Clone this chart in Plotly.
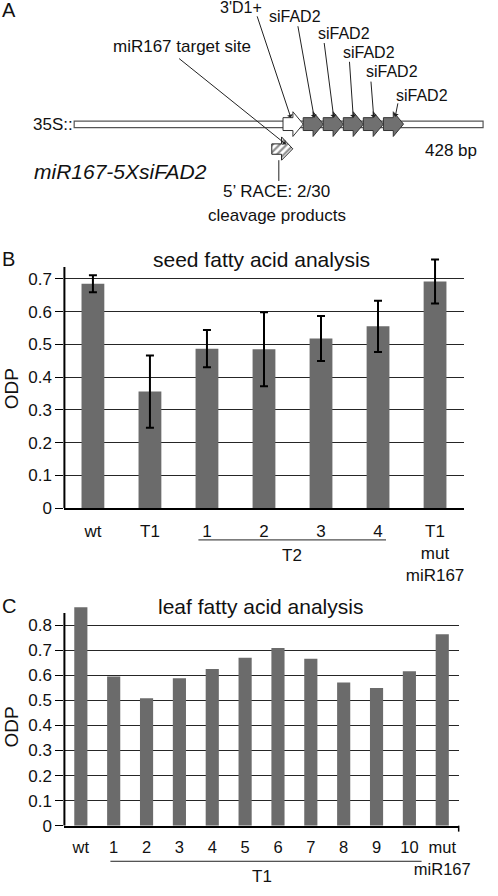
import plotly.graph_objects as go

W, H = 498, 896
FONT = "Liberation Sans, Arial, sans-serif"
INK = "#111111"
BAR = "#6b6b6b"

# ---------------- data ----------------
seed_cats = ["wt", "T1", "1", "2", "3", "4", "T1 mut miR167"]
seed_ticktext = ["wt", "T1", "1", "2", "3", "4", "T1<br>mut<br>miR167"]
seed_odp = [0.685, 0.356, 0.487, 0.485, 0.518, 0.555, 0.692]
seed_err = [0.026, 0.110, 0.057, 0.113, 0.069, 0.078, 0.067]
seed_yticks = [0, 0.1, 0.2, 0.3, 0.4, 0.5, 0.6, 0.7]

leaf_cats = ["wt", "1", "2", "3", "4", "5", "6", "7", "8", "9", "10", "mut miR167"]
leaf_ticktext = ["wt", "1", "2", "3", "4", "5", "6", "7", "8", "9", "10", "mut<br>miR167"]
leaf_odp = [0.872, 0.595, 0.509, 0.588, 0.625, 0.670, 0.709, 0.666, 0.571, 0.549, 0.616, 0.764]
leaf_yticks = [0, 0.1, 0.2, 0.3, 0.4, 0.5, 0.6, 0.7, 0.8]


def fx(px):
    return px / W


def fy(py):
    return 1 - py / H


# panel geometry (pixels)
B_left, B_right, B_zero, B_unit, B_top = 66, 475, 514, 331.43, 0.77
C_left, C_right, C_zero, C_unit, C_top = 66, 470, 835, 253.4, 0.88

fig = go.Figure()

fig.add_trace(go.Bar(
    x=seed_cats, y=seed_odp, marker=dict(color=BAR, line=dict(width=0)),
    error_y=dict(type="data", array=seed_err, color="black", thickness=2, width=4),
    xaxis="x", yaxis="y", showlegend=False, hoverinfo="skip"))

fig.add_trace(go.Bar(
    x=leaf_cats, y=leaf_odp, marker=dict(color=BAR, line=dict(width=0)),
    xaxis="x2", yaxis="y2", showlegend=False, hoverinfo="skip"))

# ---------------- panel A (pixel-space overlay axes) ----------------
hatch_x = [278.5, 288.5, 288.5, 300, 288.5, 288.5, 278.5, 278.5]
hatch_y = [145.5, 145.5, 138.5, 150.5, 162, 156, 156, 145.5]
fig.add_trace(go.Scatter(
    x=hatch_x, y=hatch_y, mode="lines", fill="toself",
    fillcolor="white",
    fillpattern=dict(shape="/", fgcolor="#222222", bgcolor="white", size=5, solidity=0.45),
    line=dict(color="#222222", width=1),
    xaxis="x3", yaxis="y3", showlegend=False, hoverinfo="skip"))

shapes = []
annotations = []

# long construct bar
shapes.append(dict(type="rect", xref="x3", yref="y3", x0=76, x1=495, y0=122.5, y1=129,
                   fillcolor="white", line=dict(color="#555555", width=1.2)))


def arrow_path(s, w=20.6, yb0=119, yb1=132, yh0=113, yh1=138):
    b = s + w * 0.49
    t = s + w
    m = (yh0 + yh1) / 2
    return f"M{s},{yb0} L{b},{yb0} L{b},{yh0} L{t},{m} L{b},{yh1} L{b},{yb1} L{s},{yb1} Z"


shapes.append(dict(type="path", xref="x3", yref="y3", path=arrow_path(290, 20.7),
                   fillcolor="white", line=dict(color="#333333", width=1)))
for s in [310.7, 331.2, 351.8, 372.3, 392.9]:
    shapes.append(dict(type="path", xref="x3", yref="y3", path=arrow_path(s),
                       fillcolor="#707070", line=dict(color="#333333", width=1)))

# stem below hatched arrow
shapes.append(dict(type="line", xref="x3", yref="y3", x0=285.7, x1=285.7, y0=162, y1=183,
                   line=dict(color="#222222", width=1)))

# leader lines with arrowheads
leaders = [
    ((182, 58), (293, 146)),
    ((263, 15), (298, 119)),
    ((305, 25), (322, 119)),
    ((332, 42), (342, 119)),
    ((358, 61), (362, 119)),
    ((380, 81), (383, 119)),
    ((408, 103), (405, 118)),
]
for (sx, sy), (ex, ey) in leaders:
    annotations.append(dict(xref="x3", yref="y3", axref="x3", ayref="y3",
                            x=ex, y=ey, ax=sx, ay=sy, text="", showarrow=True,
                            arrowhead=1, arrowsize=1, arrowwidth=1, arrowcolor="#222222"))

textA = [
    ("A", 9, 10, 20),
    ("3'D1+", 247, 8, 16),
    ("siFAD2", 302, 17, 16),
    ("siFAD2", 353, 34, 16),
    ("siFAD2", 378, 53, 16),
    ("siFAD2", 402, 72, 16),
    ("siFAD2", 432, 97, 16),
    ("miR167 target site", 187, 47, 17),
    ("35S::", 54, 126, 17),
    ("428 bp", 462, 152, 17),
    ("<i>miR167-5XsiFAD2</i>", 123, 173, 21),
    ("5\u2019 RACE: 2/30", 283, 194, 17),
    ("cleavage products", 284, 218, 17),
]
for t, x, y, s in textA:
    annotations.append(dict(xref="x3", yref="y3", x=x, y=y, text=t, showarrow=False,
                            xanchor="center", yanchor="middle",
                            font=dict(family=FONT, size=s, color=INK)))

# ---------------- panel B decorations ----------------
annotations += [
    dict(xref="paper", yref="paper", x=fx(9), y=fy(262), text="B", showarrow=False,
         font=dict(family=FONT, size=20, color=INK), xanchor="center", yanchor="middle"),
    dict(xref="paper", yref="paper", x=fx(268), y=fy(262), text="seed fatty acid analysis",
         showarrow=False, font=dict(family=FONT, size=21, color=INK),
         xanchor="center", yanchor="middle"),
    dict(xref="paper", yref="paper", x=fx(12), y=fy(393), text="ODP", textangle=-90,
         showarrow=False, font=dict(family=FONT, size=19, color=INK),
         xanchor="center", yanchor="middle"),
]
nB = len(seed_cats)
shapes.append(dict(type="line", xref="x domain", yref="y", x0=0, x1=0, y0=0, y1=0.736,
                   line=dict(color="black", width=2)))
shapes.append(dict(type="line", xref="x domain", yref="paper",
                   x0=(2 + 0.5 - 0.15) / nB, x1=(5 + 0.5 + 0.14) / nB,
                   y0=fy(546), y1=fy(546), line=dict(color="#222222", width=1)))
annotations.append(dict(xref="x domain", yref="paper", x=(3.5 + 0.5) / nB, y=fy(562),
                        text="T2", showarrow=False, xanchor="center", yanchor="middle",
                        font=dict(family=FONT, size=17, color=INK)))

# ---------------- panel C decorations ----------------
annotations += [
    dict(xref="paper", yref="paper", x=fx(9), y=fy(613), text="C", showarrow=False,
         font=dict(family=FONT, size=20, color=INK), xanchor="center", yanchor="middle"),
    dict(xref="paper", yref="paper", x=fx(267), y=fy(613), text="leaf fatty acid analysis",
         showarrow=False, font=dict(family=FONT, size=21, color=INK),
         xanchor="center", yanchor="middle"),
    dict(xref="paper", yref="paper", x=fx(12), y=fy(735), text="ODP", textangle=-90,
         showarrow=False, font=dict(family=FONT, size=19, color=INK),
         xanchor="center", yanchor="middle"),
]
nC = len(leaf_cats)
shapes.append(dict(type="line", xref="x2 domain", yref="y2", x0=0, x1=0, y0=0, y1=0.849,
                   line=dict(color="black", width=2)))
shapes.append(dict(type="line", xref="x2 domain", yref="paper",
                   x0=(0.9 + 0.5) / nC, x1=(10.37 + 0.5) / nC,
                   y0=fy(871), y1=fy(871), line=dict(color="#222222", width=1)))
shapes.append(dict(type="line", xref="x2 domain", yref="paper", x0=1, x1=1,
                   y0=fy(835), y1=fy(841), line=dict(color="black", width=1.5)))
annotations.append(dict(xref="x2 domain", yref="paper", x=(5.5 + 0.5) / nC, y=fy(886),
                        text="T1", showarrow=False, xanchor="center", yanchor="middle",
                        borderpad=0, font=dict(family=FONT, size=17, color=INK)))

yaxis_common = dict(
    tickmode="array", ticks="outside", ticklen=8, tickcolor="black", tickwidth=1,
    showgrid=True, gridcolor="#262626", gridwidth=1, zeroline=False, showline=False,
    tickfont=dict(family=FONT, size=17, color=INK), tickformat=".1~f", fixedrange=True,
)
xaxis_common = dict(
    type="category", showgrid=False, zeroline=False, showline=True, linecolor="black",
    linewidth=2, ticks="outside", ticklen=6, tickcolor="rgba(0,0,0,0)", tickangle=0,
    fixedrange=True,
)

fig.update_layout(
    width=W, height=H, autosize=False, margin=dict(l=0, r=0, t=0, b=0, pad=0),
    paper_bgcolor="white", plot_bgcolor="rgba(0,0,0,0)",
    bargap=0.6, showlegend=False, dragmode=False,
    xaxis=dict(domain=[fx(B_left), fx(B_right)], anchor="y", range=[-0.5, nB - 0.5],
               tickvals=seed_cats, ticktext=seed_ticktext,
               tickfont=dict(family=FONT, size=17, color=INK), **xaxis_common),
    yaxis=dict(domain=[fy(B_zero), fy(B_zero - B_top * B_unit)], anchor="x",
               range=[0, B_top], tickvals=seed_yticks, **yaxis_common),
    xaxis2=dict(domain=[fx(C_left), fx(C_right)], anchor="y2", range=[-0.5, nC - 0.5],
                tickvals=leaf_cats, ticktext=leaf_ticktext,
                tickfont=dict(family=FONT, size=16.5, color=INK), **xaxis_common),
    yaxis2=dict(domain=[fy(C_zero), fy(C_zero - C_top * C_unit)], anchor="x2",
                range=[0, C_top], tickvals=leaf_yticks, **yaxis_common),
    xaxis3=dict(domain=[0, 1], range=[0, W], visible=False, anchor="y3", fixedrange=True),
    yaxis3=dict(domain=[0, 1], range=[H, 0], visible=False, anchor="x3", fixedrange=True),
    shapes=shapes, annotations=annotations,
)

post = (
    "document.documentElement.style.margin='0';"
    "document.documentElement.style.overflow='hidden';"
    "document.body.style.margin='0';document.body.style.overflow='hidden';"
    "document.querySelectorAll('.main-svg').forEach(function(s){s.style.overflow='hidden';});"
)
fig.write_html("out.html", config={"displayModeBar": False, "responsive": False,
                                   "staticPlot": True},
               post_script=post)
